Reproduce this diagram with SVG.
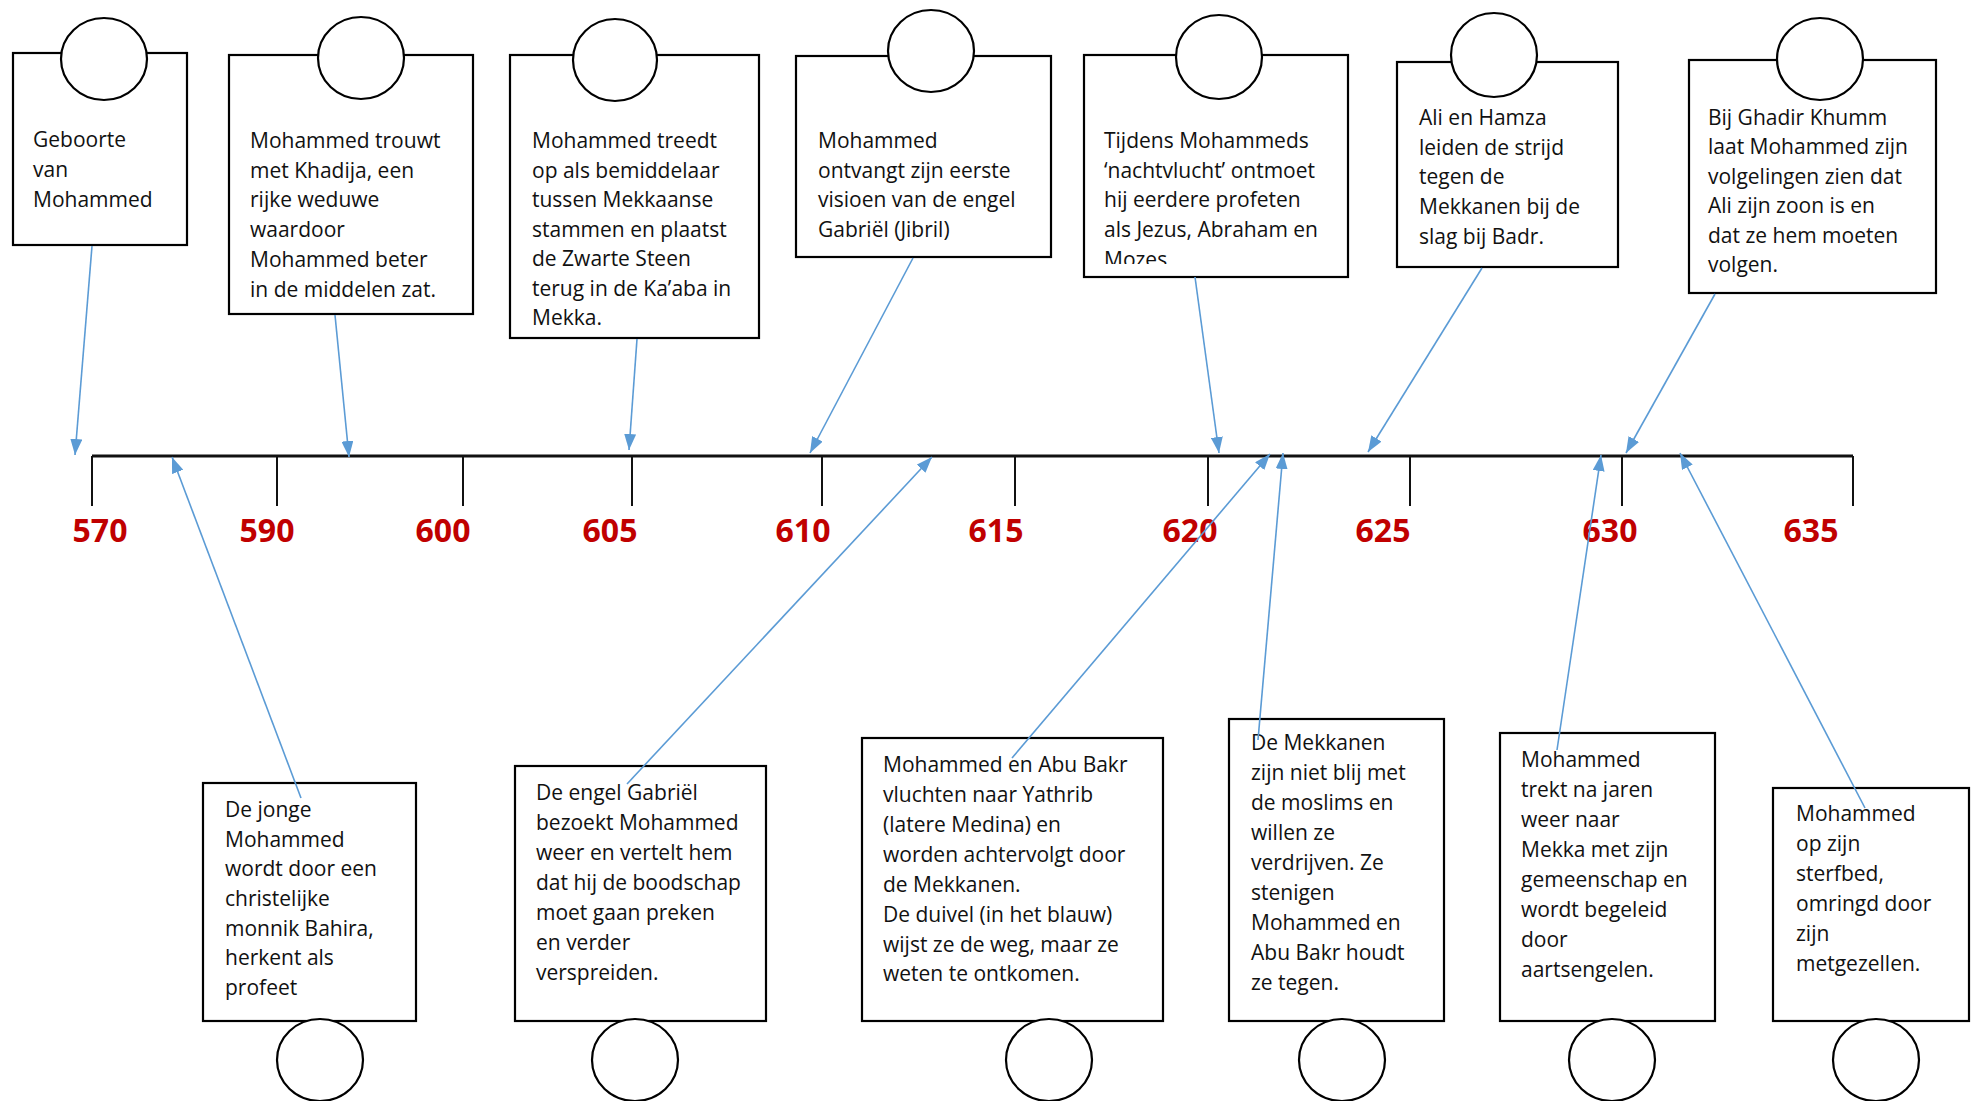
<svg xmlns="http://www.w3.org/2000/svg" width="1973" height="1101" viewBox="0 0 1973 1101">
<style>
.box{fill:#fff;stroke:#000;stroke-width:2.2}
.cir{fill:#fff;stroke:#000;stroke-width:2.2}
.t{font-family:"Open Sans","Liberation Sans",sans-serif;font-size:21px;fill:#111}
.yr{font-family:"Open Sans","Liberation Sans",sans-serif;font-size:32px;font-weight:bold;fill:#c00000;text-anchor:middle}
.axis{stroke:#111;stroke-width:3;fill:none}
.tick{stroke:#111;stroke-width:2;fill:none}
.con{stroke:#5b9bd5;stroke-width:1.6;fill:none;marker-end:url(#ah)}
</style>
<defs>
<marker id="ah" markerUnits="userSpaceOnUse" markerWidth="16" markerHeight="12" refX="16" refY="6" orient="auto">
<path d="M0,0 L16,6 L0,12 z" fill="#5b9bd5"/>
</marker>
<clipPath id="clip5"><rect x="1084" y="55" width="264" height="209"/></clipPath>
</defs>
<rect width="1973" height="1101" fill="#fff"/>

<g id="timeline">
<line class="axis" x1="92" y1="456" x2="1853" y2="456"/>
<line class="tick" x1="92" y1="456" x2="92" y2="506"/>
<line class="tick" x1="277" y1="456" x2="277" y2="506"/>
<line class="tick" x1="463" y1="456" x2="463" y2="506"/>
<line class="tick" x1="632" y1="456" x2="632" y2="506"/>
<line class="tick" x1="822" y1="456" x2="822" y2="506"/>
<line class="tick" x1="1015" y1="456" x2="1015" y2="506"/>
<line class="tick" x1="1208" y1="456" x2="1208" y2="506"/>
<line class="tick" x1="1410" y1="456" x2="1410" y2="506"/>
<line class="tick" x1="1622" y1="456" x2="1622" y2="506"/>
<line class="tick" x1="1853" y1="456" x2="1853" y2="506"/>
<text class="yr" x="100" y="542">570</text>
<text class="yr" x="267" y="542">590</text>
<text class="yr" x="443" y="542">600</text>
<text class="yr" x="610" y="542">605</text>
<text class="yr" x="803" y="542">610</text>
<text class="yr" x="996" y="542">615</text>
<text class="yr" x="1190" y="542">620</text>
<text class="yr" x="1383" y="542">625</text>
<text class="yr" x="1610" y="542">630</text>
<text class="yr" x="1811" y="542">635</text>
</g>

<g id="n1">
<rect class="box" x="13" y="53" width="174" height="192"/>
<ellipse class="cir" cx="104" cy="59" rx="43" ry="41"/>
<text class="t"><tspan x="33" y="147">Geboorte</tspan><tspan x="33" y="177">van</tspan><tspan x="33" y="207">Mohammed</tspan></text>
</g>
<g id="n2">
<rect class="box" x="229" y="55" width="244" height="259"/>
<ellipse class="cir" cx="361" cy="58" rx="43" ry="41"/>
<text class="t"><tspan x="250" y="148">Mohammed trouwt</tspan><tspan x="250" y="178">met Khadija, een</tspan><tspan x="250" y="207">rijke weduwe</tspan><tspan x="250" y="237">waardoor</tspan><tspan x="250" y="267">Mohammed beter</tspan><tspan x="250" y="297">in de middelen zat.</tspan></text>
</g>
<g id="n3">
<rect class="box" x="510" y="55" width="249" height="283"/>
<ellipse class="cir" cx="615" cy="60" rx="42" ry="41"/>
<text class="t"><tspan x="532" y="148">Mohammed treedt</tspan><tspan x="532" y="178">op als bemiddelaar</tspan><tspan x="532" y="207">tussen Mekkaanse</tspan><tspan x="532" y="237">stammen en plaatst</tspan><tspan x="532" y="266">de Zwarte Steen</tspan><tspan x="532" y="296">terug in de Ka’aba in</tspan><tspan x="532" y="325">Mekka.</tspan></text>
</g>
<g id="n4">
<rect class="box" x="796" y="56" width="255" height="201"/>
<ellipse class="cir" cx="931" cy="51" rx="43" ry="41"/>
<text class="t"><tspan x="818" y="148">Mohammed</tspan><tspan x="818" y="178">ontvangt zijn eerste</tspan><tspan x="818" y="207">visioen van de engel</tspan><tspan x="818" y="237">Gabriël (Jibril)</tspan></text>
</g>
<g id="n5">
<rect class="box" x="1084" y="55" width="264" height="222"/>
<ellipse class="cir" cx="1219" cy="57" rx="43" ry="42"/>
<text class="t" clip-path="url(#clip5)"><tspan x="1104" y="148">Tijdens Mohammeds</tspan><tspan x="1104" y="178">‘nachtvlucht’ ontmoet</tspan><tspan x="1104" y="207">hij eerdere profeten</tspan><tspan x="1104" y="237">als Jezus, Abraham en</tspan><tspan x="1104" y="267">Mozes</tspan></text>
</g>
<g id="n6">
<rect class="box" x="1397" y="62" width="221" height="205"/>
<ellipse class="cir" cx="1494" cy="55" rx="43" ry="42"/>
<text class="t"><tspan x="1419" y="125">Ali en Hamza</tspan><tspan x="1419" y="155">leiden de strijd</tspan><tspan x="1419" y="184">tegen de</tspan><tspan x="1419" y="214">Mekkanen bij de</tspan><tspan x="1419" y="244">slag bij Badr.</tspan></text>
</g>
<g id="n7">
<rect class="box" x="1689" y="60" width="247" height="233"/>
<ellipse class="cir" cx="1820" cy="59" rx="43" ry="41"/>
<text class="t"><tspan x="1708" y="125">Bij Ghadir Khumm</tspan><tspan x="1708" y="154">laat Mohammed zijn</tspan><tspan x="1708" y="184">volgelingen zien dat</tspan><tspan x="1708" y="213">Ali zijn zoon is en</tspan><tspan x="1708" y="243">dat ze hem moeten</tspan><tspan x="1708" y="272">volgen.</tspan></text>
</g>

<g id="b1">
<rect class="box" x="203" y="783" width="213" height="238"/>
<ellipse class="cir" cx="320" cy="1060" rx="43" ry="41"/>
<text class="t"><tspan x="225" y="817">De jonge</tspan><tspan x="225" y="847">Mohammed</tspan><tspan x="225" y="876">wordt door een</tspan><tspan x="225" y="906">christelijke</tspan><tspan x="225" y="936">monnik Bahira,</tspan><tspan x="225" y="965">herkent als</tspan><tspan x="225" y="995">profeet</tspan></text>
</g>
<g id="b2">
<rect class="box" x="515" y="766" width="251" height="255"/>
<ellipse class="cir" cx="635" cy="1060" rx="43" ry="41"/>
<text class="t"><tspan x="536" y="800">De engel Gabriël</tspan><tspan x="536" y="830">bezoekt Mohammed</tspan><tspan x="536" y="860">weer en vertelt hem</tspan><tspan x="536" y="890">dat hij de boodschap</tspan><tspan x="536" y="920">moet gaan preken</tspan><tspan x="536" y="950">en verder</tspan><tspan x="536" y="980">verspreiden.</tspan></text>
</g>
<g id="b3">
<rect class="box" x="862" y="738" width="301" height="283"/>
<ellipse class="cir" cx="1049" cy="1060" rx="43" ry="41"/>
<text class="t"><tspan x="883" y="772">Mohammed en Abu Bakr</tspan><tspan x="883" y="802">vluchten naar Yathrib</tspan><tspan x="883" y="832">(latere Medina) en</tspan><tspan x="883" y="862">worden achtervolgt door</tspan><tspan x="883" y="892">de Mekkanen.</tspan><tspan x="883" y="922">De duivel (in het blauw)</tspan><tspan x="883" y="952">wijst ze de weg, maar ze</tspan><tspan x="883" y="981">weten te ontkomen.</tspan></text>
</g>
<g id="b4">
<rect class="box" x="1229" y="719" width="215" height="302"/>
<ellipse class="cir" cx="1342" cy="1060" rx="43" ry="41"/>
<text class="t"><tspan x="1251" y="750">De Mekkanen</tspan><tspan x="1251" y="780">zijn niet blij met</tspan><tspan x="1251" y="810">de moslims en</tspan><tspan x="1251" y="840">willen ze</tspan><tspan x="1251" y="870">verdrijven. Ze</tspan><tspan x="1251" y="900">stenigen</tspan><tspan x="1251" y="930">Mohammed en</tspan><tspan x="1251" y="960">Abu Bakr houdt</tspan><tspan x="1251" y="990">ze tegen.</tspan></text>
</g>
<g id="b5">
<rect class="box" x="1500" y="733" width="215" height="288"/>
<ellipse class="cir" cx="1612" cy="1060" rx="43" ry="41"/>
<text class="t"><tspan x="1521" y="767">Mohammed</tspan><tspan x="1521" y="797">trekt na jaren</tspan><tspan x="1521" y="827">weer naar</tspan><tspan x="1521" y="857">Mekka met zijn</tspan><tspan x="1521" y="887">gemeenschap en</tspan><tspan x="1521" y="917">wordt begeleid</tspan><tspan x="1521" y="947">door</tspan><tspan x="1521" y="977">aartsengelen.</tspan></text>
</g>
<g id="b6">
<rect class="box" x="1773" y="788" width="196" height="233"/>
<ellipse class="cir" cx="1876" cy="1060" rx="43" ry="41"/>
<text class="t"><tspan x="1796" y="821">Mohammed</tspan><tspan x="1796" y="851">op zijn</tspan><tspan x="1796" y="881">sterfbed,</tspan><tspan x="1796" y="911">omringd door</tspan><tspan x="1796" y="941">zijn</tspan><tspan x="1796" y="971">metgezellen.</tspan></text>
</g>

<g id="connectors">
<line class="con" x1="92" y1="246" x2="75" y2="455"/>
<line class="con" x1="335" y1="315" x2="349" y2="457"/>
<line class="con" x1="637" y1="339" x2="629" y2="450"/>
<line class="con" x1="913" y1="258" x2="810" y2="453"/>
<line class="con" x1="1195" y1="277" x2="1219" y2="453"/>
<line class="con" x1="1482" y1="268" x2="1368" y2="452"/>
<line class="con" x1="1715" y1="294" x2="1626" y2="453"/>
<line class="con" x1="301" y1="798" x2="172" y2="457"/>
<line class="con" x1="627" y1="784" x2="932" y2="457"/>
<line class="con" x1="1012" y1="758" x2="1270" y2="454"/>
<line class="con" x1="1258" y1="740" x2="1283" y2="453"/>
<line class="con" x1="1557" y1="750" x2="1601" y2="455"/>
<line class="con" x1="1865" y1="808" x2="1680" y2="453"/>
</g>
</svg>
